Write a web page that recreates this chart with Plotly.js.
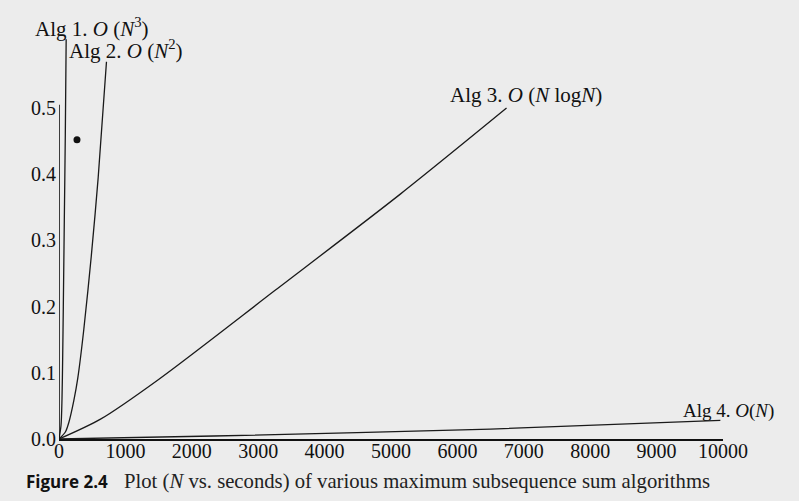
<!DOCTYPE html>
<html>
<head>
<meta charset="utf-8">
<script src="https://cdn.plot.ly/plotly-3.0.1.min.js"></script>
<style>html,body{margin:0;padding:0;background:#ececec;}#chart{width:799px;height:501px;}</style>
</head>
<body>
<div id="chart"></div>
<script>
// Data (N vs. seconds)
const alg1N = [0, 30, 45, 55, 65, 80, 95, 108];
const alg1T = [0, 0.02, 0.06, 0.12, 0.2, 0.33, 0.46, 0.604];

const alg2N = [0, 98, 148, 223, 283, 373, 485, 590, 715];
const alg2T = [0, 0.011, 0.025, 0.058, 0.092, 0.165, 0.275, 0.395, 0.57];

const alg3N = [0, 625, 1500, 3260, 5140, 6740];
const alg3T = [0, 0.030, 0.090, 0.225, 0.370, 0.500];

const alg4N = [0, 2330, 6500, 9960];
const alg4T = [0, 0.0045, 0.015, 0.028];

const dotN = [271];
const dotT = [0.452];

const xTicks = [0, 1000, 2000, 3000, 4000, 5000, 6000, 7000, 8000, 9000, 10000];
const yTicks = [0, 0.1, 0.2, 0.3, 0.4, 0.5];
const yTickText = ["0.0", "0.1", "0.2", "0.3", "0.4", "0.5"];

const lineStyle = {color: '#1a1a1a', width: 1.3, shape: 'spline', smoothing: 0.8};
const traces = [
  {x: alg1N, y: alg1T, mode: 'lines', line: lineStyle, name: 'Alg 1', cliponaxis: false},
  {x: alg2N, y: alg2T, mode: 'lines', line: lineStyle, name: 'Alg 2', cliponaxis: false},
  {x: alg3N, y: alg3T, mode: 'lines', line: lineStyle, name: 'Alg 3', cliponaxis: false},
  {x: alg4N, y: alg4T, mode: 'lines', line: lineStyle, name: 'Alg 4', cliponaxis: false},
  {x: dotN, y: dotT, mode: 'markers', marker: {color: '#111', size: 7}, name: 'dot'}
];

const serif = 'Liberation Serif, Times New Roman, serif';
const layout = {
  width: 799, height: 501,
  margin: {l: 59, r: 76, t: 30, b: 62},
  paper_bgcolor: '#ececec',
  plot_bgcolor: '#ececec',
  showlegend: false,
  font: {family: serif, size: 20, color: '#111'},
  xaxis: {
    range: [0, 10000], tickvals: xTicks, ticktext: xTicks.map(String),
    showgrid: false, zeroline: false, showline: true, linecolor: '#111', linewidth: 1.6,
    ticks: '', ticklabelstandoff: -7, tickfont: {family: serif, size: 20, color: '#111'}
  },
  yaxis: {
    range: [0, 0.618], tickvals: yTicks, ticktext: yTickText,
    showgrid: false, zeroline: false, showline: false,
    ticks: '', ticklabelstandoff: 2, tickfont: {family: serif, size: 20, color: '#111'}
  },
  shapes: [
    {type: 'line', xref: 'x', yref: 'y', x0: 0, x1: 0, y0: 0, y1: 0.505, line: {color: '#111', width: 1.6}}
  ],
  annotations: [
    {xref: 'paper', yref: 'paper', x: -0.0395, y: 1.005, xanchor: 'left', yanchor: 'middle', showarrow: false,
     text: 'Alg 1. <i>O</i> (<i>N</i><sup>3</sup>)', font: {family: serif, size: 21, color: '#111'}},
    {xref: 'paper', yref: 'paper', x: 0.012, y: 0.953, xanchor: 'left', yanchor: 'middle', showarrow: false,
     text: 'Alg 2. <i>O</i> (<i>N</i><sup>2</sup>)', font: {family: serif, size: 21, color: '#111'}},
    {xref: 'paper', yref: 'paper', x: 0.586, y: 0.841, xanchor: 'left', yanchor: 'middle', showarrow: false,
     text: 'Alg 3. <i>O</i> (<i>N</i> log<i>N</i>)', font: {family: serif, size: 21, color: '#111'}},
    {xref: 'paper', yref: 'paper', x: 0.937, y: 0.068, xanchor: 'left', yanchor: 'middle', showarrow: false,
     text: 'Alg 4. <i>O</i>(<i>N</i>)', font: {family: serif, size: 19, color: '#111'}},
    {xref: 'paper', yref: 'paper', x: -0.053, y: -0.103, xanchor: 'left', yanchor: 'middle', showarrow: false,
     text: '<b>Figure 2.4</b>', font: {family: 'Open Sans, sans-serif', size: 17, color: '#111'}},
    {xref: 'paper', yref: 'paper', x: 0.0955, y: -0.103, xanchor: 'left', yanchor: 'middle', showarrow: false,
     text: 'Plot (<i>N</i> vs. seconds) of various maximum subsequence sum algorithms', font: {family: serif, size: 20.7, color: '#222'}}
  ]
};

Plotly.newPlot('chart', traces, layout, {displayModeBar: false, staticPlot: true});
</script>
</body>
</html>
